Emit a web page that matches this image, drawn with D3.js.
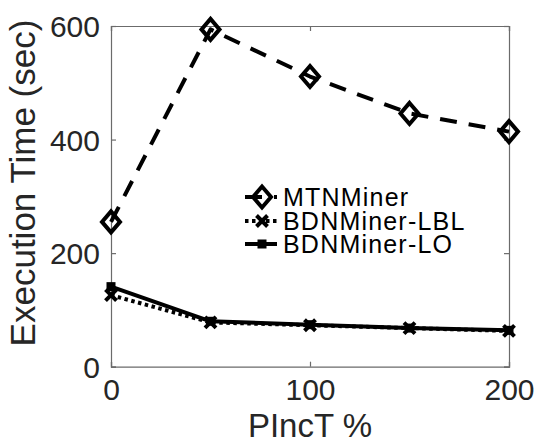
<!DOCTYPE html>
<html>
<head>
<meta charset="utf-8">
<script src="https://cdn.jsdelivr.net/npm/d3@7"></script>
<style>
  html, body { margin: 0; padding: 0; background: #fff; }
  svg text { font-family: "Liberation Sans", Arial, Helvetica, sans-serif; }
</style>
</head>
<body>
<svg id="chart" width="535" height="442"></svg>
<script>
// PIncT percentages on the x axis
const pinct = [0, 50, 100, 150, 200];
// Execution time (sec) for each miner
const mtnMiner = [255, 594, 511, 446, 414];
const bdnLBL = [126, 78, 73, 68, 63];
const bdnLO = [141, 80, 74, 68, 64];
const seriesNames = ["MTNMiner", "BDNMiner-LBL", "BDNMiner-LO"];
const xTicks = [0, 100, 200];
const yTicks = [0, 200, 400, 600];

const svg = d3.select("#chart");
const plotLeft = 111, plotRight = 509, plotTop = 26, plotBottom = 366.7;

const x = d3.scaleLinear().domain([0, 200]).range([plotLeft, plotRight]);
const y = d3.scaleLinear().domain([0, 600]).range([plotBottom, plotTop]);

const axisColor = "#262626";
const frameColor = "#6b6b6b";

// axes: ticks point inward, mirrored on the opposite side
const gx = svg.append("g").attr("transform", `translate(0,${plotBottom})`)
  .call(d3.axisBottom(x).tickValues(xTicks).tickSize(-5).tickPadding(8).tickFormat(d3.format("d")));
const gxTop = svg.append("g").attr("transform", `translate(0,${plotTop})`)
  .call(d3.axisTop(x).tickValues(xTicks).tickSize(-5).tickFormat(""));
const gy = svg.append("g").attr("transform", `translate(${plotLeft},0)`)
  .call(d3.axisLeft(y).tickValues(yTicks).tickSize(-5).tickPadding(11).tickFormat(d3.format("d")));
const gyRight = svg.append("g").attr("transform", `translate(${plotRight},0)`)
  .call(d3.axisRight(y).tickValues(yTicks).tickSize(-5).tickFormat(""));

[gx, gxTop, gy, gyRight].forEach(g => {
  g.select(".domain").attr("stroke", frameColor).attr("stroke-width", 1.2);
  g.selectAll(".tick line").attr("stroke", frameColor).attr("stroke-width", 1.2);
});
gx.selectAll(".tick text").attr("font-size", 30).attr("fill", axisColor).attr("dy", "0.85em");
gy.selectAll(".tick text").attr("font-size", 30).attr("fill", axisColor).attr("dy", "0.36em");

// axis titles
svg.append("text")
  .attr("x", (plotLeft + plotRight) / 2).attr("y", 436.5)
  .attr("text-anchor", "middle").attr("font-size", 33).attr("fill", axisColor)
  .text("PIncT %");
svg.append("text")
  .attr("transform", "translate(35,183) rotate(-90)")
  .attr("text-anchor", "middle").attr("font-size", 35).attr("fill", axisColor)
  .text("Execution Time (sec)");

const line = d3.line().x((d, i) => x(pinct[i])).y(d => y(d));

const styles = [
  { data: mtnMiner, dash: "17,12", marker: "diamond", width: 4 },
  { data: bdnLBL, dash: "3.5,3.5", marker: "cross", width: 4 },
  { data: bdnLO, dash: null, marker: "square", width: 4 }
];

function drawMarker(g, kind, cx, cy) {
  if (kind === "diamond") {
    g.append("path")
      .attr("d", `M${cx},${cy - 10.5}L${cx + 9},${cy}L${cx},${cy + 10.5}L${cx - 9},${cy}Z`)
      .attr("fill", "none").attr("stroke", "#000").attr("stroke-width", 4)
      .attr("stroke-linejoin", "miter");
  } else if (kind === "cross") {
    const r = 5.5;
    g.append("path")
      .attr("d", `M${cx - r},${cy - r}L${cx + r},${cy + r}M${cx - r},${cy + r}L${cx + r},${cy - r}`)
      .attr("stroke", "#000").attr("stroke-width", 4).attr("fill", "none");
  } else {
    g.append("rect")
      .attr("x", cx - 4.5).attr("y", cy - 4.5).attr("width", 9).attr("height", 9)
      .attr("fill", "#000");
  }
}

// series lines, drawn LO first so the dashed/dotted lines sit on top
[2, 1, 0].forEach(k => {
  const s = styles[k];
  const g = svg.append("g");
  g.append("path")
    .attr("d", line(s.data))
    .attr("fill", "none").attr("stroke", "#000").attr("stroke-width", s.width)
    .attr("stroke-dasharray", s.dash).attr("stroke-linejoin", "round");
  s.data.forEach((d, i) => drawMarker(g, s.marker, x(pinct[i]), y(d)));
});

// legend
const legendRows = [197, 221, 244];
seriesNames.forEach((name, k) => {
  const s = styles[k];
  const g = svg.append("g");
  const cy = legendRows[k];
  g.append("line")
    .attr("x1", 245).attr("x2", 277).attr("y1", cy).attr("y2", cy)
    .attr("stroke", "#000").attr("stroke-width", s.width)
    .attr("stroke-dasharray", s.dash);
  drawMarker(g, s.marker, 262, cy);
  g.append("text")
    .attr("x", 283).attr("y", cy + 8.5)
    .attr("font-size", 25).attr("letter-spacing", 1.2).attr("fill", "#000")
    .text(name);
});
</script>
</body>
</html>
